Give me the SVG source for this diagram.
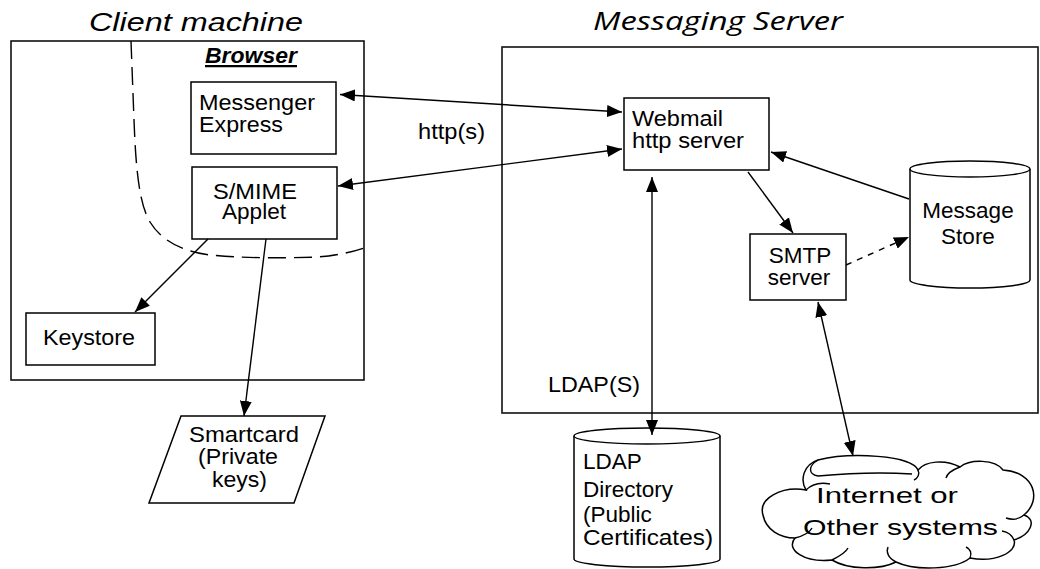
<svg xmlns="http://www.w3.org/2000/svg" width="1040" height="569" viewBox="0 0 1040 569">
<style>
  .t { font-family: "Liberation Sans", Arial, sans-serif; font-size: 22.5px; fill: #000; }
  .title { font-family: "Liberation Sans", Arial, sans-serif; font-style: italic; font-size: 25px; fill: #000; }
  .box { fill: #fff; stroke: #000; stroke-width: 1.5; }
  .frame { fill: none; stroke: #111; stroke-width: 1.6; }
  .ln { fill: none; stroke: #000; stroke-width: 1.4; }
  .cl { fill: none; stroke: #000; stroke-width: 1.4; }
</style>
<defs>
  <marker id="arr" viewBox="0 0 15 12" refX="15" refY="6" markerWidth="15" markerHeight="12" markerUnits="userSpaceOnUse" orient="auto-start-reverse">
    <path d="M0,0 L15,6 L0,12 z" fill="#000"/>
  </marker>
</defs>

<g id="client-machine">
  <rect class="frame" x="11" y="41" width="353" height="339"/>
  <text class="title" x="89" y="31" textLength="214" lengthAdjust="spacingAndGlyphs">Client machine</text>
</g>
<g id="browser">
  <path d="M131,41 L134,120 C136,175 140,205 150,222 C162,242 185,252 210,255 C240,258 280,258.5 317,257 C335,256 352,252 364,248" fill="none" stroke="#000" stroke-width="1.4" stroke-dasharray="18 8"/>
  <text class="t" x="205" y="63" font-size="23" font-weight="bold" font-style="italic" text-decoration="underline" textLength="92" lengthAdjust="spacingAndGlyphs">Browser</text>
</g>
<g id="messaging-server">
  <rect class="frame" x="502" y="47" width="536" height="366"/>
  <text class="title" x="593" y="30" font-size="24" textLength="250" lengthAdjust="spacingAndGlyphs" style="font-family:'Open Sans','Liberation Sans',sans-serif">Messaging Server</text>
</g>

<g id="messenger-express">
  <rect class="box" x="191" y="82" width="145" height="72"/>
  <text class="t" x="199" y="110" textLength="116" lengthAdjust="spacingAndGlyphs">Messenger</text>
  <text class="t" x="199" y="132" textLength="84" lengthAdjust="spacingAndGlyphs">Express</text>
</g>
<g id="smime-applet">
  <rect class="box" x="192" y="167" width="145" height="72"/>
  <text class="t" x="213" y="199" textLength="84" lengthAdjust="spacingAndGlyphs">S/MIME</text>
  <text class="t" x="222" y="219" textLength="64" lengthAdjust="spacingAndGlyphs">Applet</text>
</g>
<g id="keystore">
  <rect class="box" x="26" y="313" width="129" height="52"/>
  <text class="t" x="43" y="345" textLength="92" lengthAdjust="spacingAndGlyphs">Keystore</text>
</g>
<g id="smartcard">
  <polygon class="box" points="181,416 325,416 294,503 149,503"/>
  <text class="t" x="189" y="442" textLength="110" lengthAdjust="spacingAndGlyphs">Smartcard</text>
  <text class="t" x="198" y="464" textLength="80" lengthAdjust="spacingAndGlyphs">(Private</text>
  <text class="t" x="212" y="487" textLength="55" lengthAdjust="spacingAndGlyphs">keys)</text>
</g>
<g id="webmail">
  <rect class="box" x="624" y="98" width="145" height="72"/>
  <text class="t" x="632" y="126" textLength="91" lengthAdjust="spacingAndGlyphs">Webmail</text>
  <text class="t" x="632" y="148" textLength="112" lengthAdjust="spacingAndGlyphs">http server</text>
</g>
<g id="smtp">
  <rect class="box" x="750" y="234" width="96" height="66"/>
  <text class="t" x="800" y="263" text-anchor="middle">SMTP</text>
  <text class="t" x="799" y="285" text-anchor="middle">server</text>
</g>
<g id="message-store">
  <path class="box" d="M910,169 A60,8 0 0 1 1030,169 L1030,280 A60,8 0 0 1 910,280 Z"/>
  <path class="ln" d="M910,169 A60,8 0 0 0 1030,169"/>
  <text class="t" x="968" y="218" text-anchor="middle">Message</text>
  <text class="t" x="968" y="244" text-anchor="middle">Store</text>
</g>
<g id="ldap-directory">
  <path class="box" d="M574,436 A73,8 0 0 1 720,436 L720,559 A73,8 0 0 1 574,559 Z"/>
  <path class="ln" d="M574,436 A73,8 0 0 0 720,436"/>
  <text class="t" x="583" y="469">LDAP</text>
  <text class="t" x="583" y="497">Directory</text>
  <text class="t" x="583" y="522">(Public</text>
  <text class="t" x="583" y="545" textLength="130" lengthAdjust="spacingAndGlyphs">Certificates)</text>
</g>
<g id="internet">
  <path class="box" d="M806,490 C782,486 758,498 763,515 C766,530 780,538 795,538 C785,550 805,563 832,560 C848,570 880,570 896,562 C915,571 955,570 970,558 C995,563 1018,552 1014,540 C1030,535 1038,520 1024,515 C1042,500 1035,472 1003,470 C995,459 970,459 960,467 C945,459 925,461 918,470 C912,455 850,452 818,460 C803,465 800,480 806,490 Z"/>
  <path class="cl" d="M806,490 C812,484 820,482 830,484"/>
  <path class="cl" d="M818,460 C808,466 808,474 818,476 C840,474 880,472 912,474"/>
  <path class="cl" d="M918,470 C920,474 918,478 914,480"/>
  <path class="cl" d="M960,467 C952,470 947,474 946,478"/>
  <path class="cl" d="M1024,515 C1018,520 1012,520 1006,518"/>
  <path class="cl" d="M1014,540 C1012,535 1008,532 1002,531"/>
  <path class="cl" d="M970,558 C972,553 970,549 966,547"/>
  <path class="cl" d="M896,562 C888,558 886,552 888,547"/>
  <path class="cl" d="M832,560 C840,556 846,552 848,548"/>
  <path class="cl" d="M795,538 C803,536 810,532 812,528"/>
  <text class="t" x="816" y="503" font-size="29" textLength="142" lengthAdjust="spacingAndGlyphs">Internet or</text>
  <text class="t" x="803" y="535" font-size="29" textLength="195" lengthAdjust="spacingAndGlyphs">Other systems</text>
</g>

<g id="connectors">
  <line class="ln" x1="340" y1="94.5" x2="622" y2="112" marker-start="url(#arr)" marker-end="url(#arr)"/>
  <line class="ln" x1="338" y1="186" x2="622" y2="149" marker-start="url(#arr)" marker-end="url(#arr)"/>
  <line class="ln" x1="652" y1="177" x2="652" y2="435" marker-start="url(#arr)" marker-end="url(#arr)"/>
  <line class="ln" x1="748" y1="172" x2="793" y2="233" marker-end="url(#arr)"/>
  <line class="ln" x1="909" y1="199" x2="771" y2="152" marker-end="url(#arr)"/>
  <line class="ln" x1="846" y1="265" x2="909" y2="237" stroke-dasharray="6 6" marker-end="url(#arr)"/>
  <line class="ln" x1="818" y1="302" x2="853" y2="456" marker-start="url(#arr)" marker-end="url(#arr)"/>
  <line class="ln" x1="208" y1="239" x2="135" y2="312" marker-end="url(#arr)"/>
  <line class="ln" x1="266" y1="239" x2="244" y2="416" marker-end="url(#arr)"/>
  <text class="t" x="418" y="139" textLength="67" lengthAdjust="spacingAndGlyphs">http(s)</text>
  <text class="t" x="548" y="392" textLength="92" lengthAdjust="spacingAndGlyphs">LDAP(S)</text>
</g>
</svg>
